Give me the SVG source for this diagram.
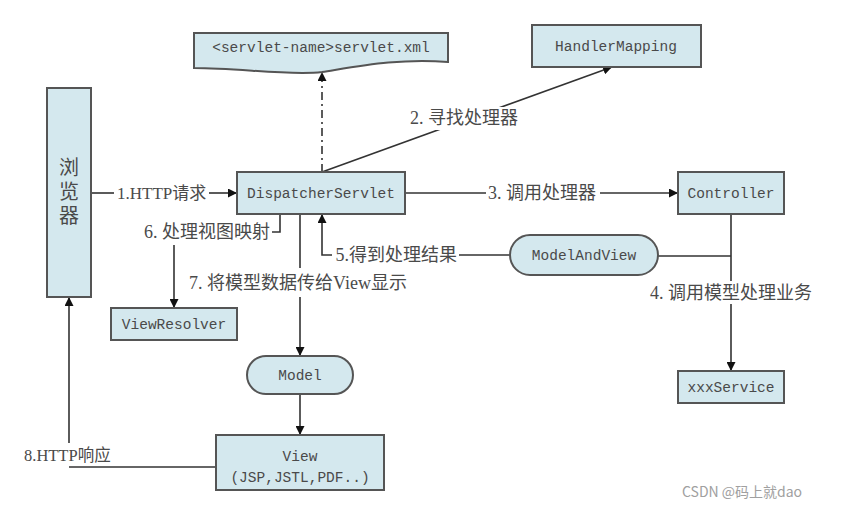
<svg xmlns="http://www.w3.org/2000/svg" width="847" height="511" viewBox="0 0 847 511">
<defs>
<marker id="arr" viewBox="0 0 10 10" refX="10" refY="5" markerWidth="9" markerHeight="9" markerUnits="userSpaceOnUse" orient="auto">
<path d="M0,0 L10,5 L0,10 Z" fill="#111"/>
</marker>
<style>
.box{fill:#d4e8ee;stroke:#555;stroke-width:2}
.nt{font-family:"Liberation Mono","Noto Sans CJK SC",monospace;font-size:14.5px;fill:#4a4a4a;text-anchor:middle}
.lb{font-family:"Liberation Serif","Noto Sans CJK SC",serif;font-size:18px;fill:#4a4a4a}
.cn{font-family:"Noto Sans CJK SC",sans-serif;font-size:20px;fill:#4a4a4a}
.ln{fill:none;stroke:#333;stroke-width:1.6}
</style>
</defs>
<rect width="847" height="511" fill="#fff"/>

<g id="connectors">
<path class="ln" d="M91,193 H114"/>
<path class="ln" d="M209,193 H237" marker-end="url(#arr)"/>
<path class="ln" d="M322,172 L612,67" marker-end="url(#arr)"/>
<path class="ln" d="M322,172 V72" stroke-dasharray="8,4,2,4" marker-end="url(#arr)"/>
<path class="ln" d="M405,193 H486"/>
<path class="ln" d="M600,193 H678" marker-end="url(#arr)"/>
<path class="ln" d="M731,214 V281"/>
<path class="ln" d="M731,304 V371" marker-end="url(#arr)"/>
<path class="ln" d="M658,256 H731"/>
<path class="ln" d="M510,255 H459"/>
<path class="ln" d="M332,255 H322 V214" marker-end="url(#arr)"/>
<path class="ln" d="M280,214 V232 H272"/>
<path class="ln" d="M174,245 V308" marker-end="url(#arr)"/>
<path class="ln" d="M300,214 V268"/>
<path class="ln" d="M300,297 V356" marker-end="url(#arr)"/>
<path class="ln" d="M300,394 V435" marker-end="url(#arr)"/>
<path class="ln" d="M69,443 V297" marker-end="url(#arr)"/>
<path class="ln" d="M69,467 H216"/>
<rect x="404" y="107" width="124" height="23" fill="#fff"/>
<text class="lb" x="117" y="199" style="font-size:17px">1.HTTP请求</text>
<text class="lb" x="410" y="124">2.  寻找处理器</text>
<text class="lb" x="488" y="199">3. 调用处理器</text>
<text class="lb" x="731" y="299" text-anchor="middle">4.  调用模型处理业务</text>
<text class="lb" x="457" y="261" text-anchor="end">5.得到处理结果</text>
<text class="lb" x="270" y="238" text-anchor="end">6.  处理视图映射</text>
<text class="lb" x="189" y="289">7.  将模型数据传给View显示</text>
<text class="lb" x="24" y="461" style="font-size:16.5px">8.HTTP响应</text>
</g>

<g id="browser">
<rect class="box" x="47" y="88" width="44" height="209"/>
<text class="cn" x="69" y="157" writing-mode="vertical-rl" letter-spacing="4">浏览器</text>
</g>

<g id="servletxml">
<path class="box" d="M194,33 H448 V62 C400,58 360,66 322,72 C290,76 240,68 194,68 Z"/>
<text class="nt" x="321" y="52">&lt;servlet-name&gt;servlet.xml</text>
</g>

<g id="handlermapping">
<rect class="box" x="532" y="25" width="169" height="42"/>
<text class="nt" x="616" y="51">HandlerMapping</text>
</g>

<g id="dispatcher">
<rect class="box" x="237" y="172" width="168" height="42"/>
<text class="nt" x="321" y="198">DispatcherServlet</text>
</g>

<g id="controller">
<rect class="box" x="678" y="172" width="106" height="42"/>
<text class="nt" x="731" y="198">Controller</text>
</g>

<g id="modelandview">
<rect class="box" x="510" y="235" width="148" height="40" rx="20" ry="20"/>
<text class="nt" x="584" y="260">ModelAndView</text>
</g>

<g id="xxxservice">
<rect class="box" x="678" y="371" width="106" height="32"/>
<text class="nt" x="731" y="392">xxxService</text>
</g>

<g id="viewresolver">
<rect class="box" x="111" y="308" width="126" height="32"/>
<text class="nt" x="174" y="329">ViewResolver</text>
</g>

<g id="model">
<rect class="box" x="247" y="356" width="106" height="38" rx="19" ry="19"/>
<text class="nt" x="300" y="380">Model</text>
</g>

<g id="view">
<rect class="box" x="216" y="435" width="168" height="55"/>
<text class="nt" x="300" y="461">View</text>
<text class="nt" x="300" y="482">(JSP,JSTL,PDF..)</text>
</g>

<text x="682" y="497" font-family="Noto Sans CJK SC, sans-serif" font-size="14" fill="#a0a0a0">CSDN @码上就dao</text>
</svg>
